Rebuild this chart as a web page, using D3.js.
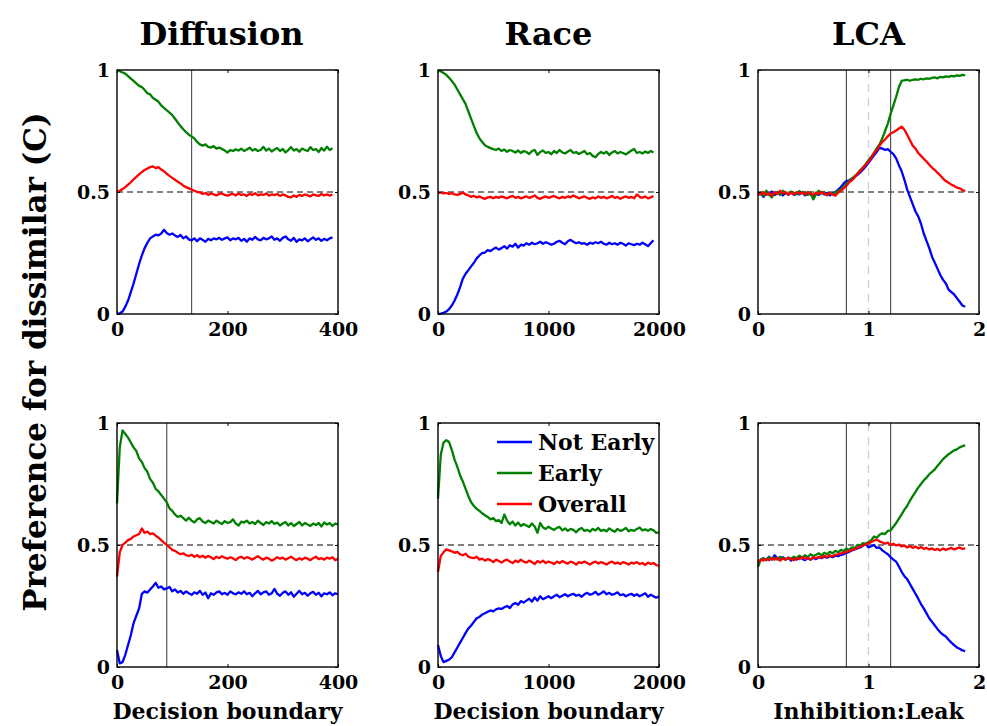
<!DOCTYPE html>
<html>
<head>
<meta charset="utf-8">
<script src="https://cdn.jsdelivr.net/npm/d3@7"></script>
<style>
  body { margin: 0; background: #fff; }
  svg { display: block; }
  text { font-family: "DejaVu Serif", serif; fill: #000; }
</style>
</head>
<body>
<svg id="chart" width="987" height="726"></svg>
<script>
// ---- Sampling grids (x = start + i * step) ----
const diffusionStep = 5;
const raceStep = 25;
const lcaStep = 0.025;

// ---- Labels ----
const modelTitles = ["Diffusion", "Race", "LCA"];
const xAxisTitles = ["Decision boundary", "Decision boundary", "Inhibition:Leak"];
const yAxisTitle = "Preference for dissimilar (C)";
const seriesNames = ["Not Early", "Early", "Overall"];
const seriesColors = ["#0000ff", "#008000", "#ff0000"];

// ---- Axis ticks ----
const diffusionTicks = [0, 200, 400];
const raceTicks = [0, 1000, 2000];
const lcaTicks = [0, 1, 2];
const yTicks = [0, 0.5, 1];

// ---- Reference markers ----
const diffusionTopMarker = [135];
const diffusionBottomMarker = [90];
const lcaMarkers = [0.8, 1.2];
const lcaUnity = [1];

// ---- Diffusion, top row ----
const diffTopNotEarly = [0.00,0.003,0.01,0.03,0.055,0.09,0.125,0.165,0.205,0.24,0.27,0.292,0.31,0.318,0.325,0.322,0.33,0.345,0.332,0.325,0.33,0.322,0.316,0.324,0.31,0.318,0.306,0.302,0.31,0.298,0.31,0.304,0.296,0.308,0.302,0.31,0.306,0.312,0.304,0.31,0.314,0.302,0.31,0.306,0.312,0.30,0.308,0.296,0.31,0.304,0.316,0.306,0.302,0.312,0.306,0.31,0.318,0.304,0.31,0.30,0.312,0.318,0.306,0.30,0.312,0.296,0.306,0.302,0.31,0.298,0.306,0.314,0.304,0.31,0.30,0.308,0.302,0.31,0.314];
const diffTopEarly = [1.00,0.995,0.99,0.985,0.975,0.965,0.955,0.945,0.935,0.93,0.918,0.905,0.90,0.885,0.878,0.87,0.855,0.845,0.835,0.825,0.815,0.80,0.785,0.77,0.757,0.745,0.735,0.728,0.72,0.705,0.695,0.69,0.695,0.685,0.682,0.688,0.678,0.682,0.676,0.67,0.662,0.672,0.668,0.675,0.67,0.678,0.668,0.674,0.682,0.67,0.676,0.668,0.672,0.685,0.67,0.678,0.666,0.674,0.68,0.668,0.676,0.662,0.672,0.684,0.67,0.676,0.665,0.678,0.672,0.668,0.684,0.672,0.676,0.664,0.68,0.67,0.686,0.672,0.68];
const diffTopOverall = [0.50,0.505,0.512,0.52,0.53,0.54,0.552,0.562,0.572,0.582,0.59,0.596,0.602,0.605,0.598,0.602,0.592,0.585,0.575,0.566,0.558,0.55,0.542,0.535,0.526,0.52,0.515,0.51,0.505,0.50,0.498,0.492,0.496,0.488,0.494,0.49,0.486,0.492,0.494,0.488,0.485,0.49,0.492,0.486,0.494,0.488,0.49,0.484,0.492,0.488,0.495,0.486,0.49,0.488,0.494,0.485,0.49,0.487,0.492,0.484,0.49,0.486,0.48,0.478,0.486,0.48,0.488,0.484,0.49,0.486,0.482,0.49,0.486,0.484,0.492,0.486,0.49,0.485,0.49];

// ---- Race, top row ----
const raceTopNotEarly = [0.00,0.002,0.005,0.01,0.02,0.035,0.055,0.08,0.11,0.145,0.165,0.18,0.195,0.21,0.228,0.24,0.25,0.252,0.262,0.258,0.266,0.272,0.264,0.27,0.278,0.268,0.282,0.276,0.288,0.272,0.284,0.28,0.29,0.284,0.292,0.286,0.29,0.296,0.288,0.294,0.29,0.284,0.288,0.296,0.30,0.292,0.286,0.298,0.304,0.296,0.29,0.294,0.288,0.29,0.284,0.292,0.288,0.294,0.29,0.296,0.288,0.284,0.292,0.286,0.29,0.284,0.292,0.288,0.28,0.29,0.286,0.282,0.288,0.284,0.292,0.286,0.278,0.29,0.302];
const raceTopEarly = [1.00,0.995,0.988,0.98,0.968,0.955,0.94,0.92,0.90,0.88,0.86,0.83,0.80,0.77,0.742,0.72,0.705,0.692,0.685,0.68,0.676,0.672,0.678,0.668,0.674,0.665,0.672,0.668,0.662,0.67,0.66,0.668,0.664,0.656,0.668,0.672,0.652,0.664,0.67,0.66,0.664,0.655,0.668,0.66,0.672,0.662,0.658,0.666,0.672,0.66,0.664,0.656,0.662,0.668,0.655,0.66,0.648,0.642,0.656,0.664,0.658,0.665,0.652,0.662,0.668,0.658,0.664,0.66,0.654,0.662,0.67,0.676,0.66,0.664,0.658,0.666,0.66,0.668,0.662];
const raceTopOverall = [0.495,0.498,0.494,0.496,0.492,0.495,0.49,0.488,0.492,0.498,0.49,0.486,0.48,0.484,0.478,0.482,0.476,0.472,0.478,0.48,0.474,0.48,0.476,0.482,0.478,0.474,0.48,0.484,0.476,0.48,0.474,0.478,0.482,0.476,0.48,0.486,0.476,0.472,0.478,0.482,0.476,0.48,0.484,0.478,0.474,0.48,0.476,0.482,0.478,0.486,0.48,0.474,0.478,0.482,0.476,0.472,0.478,0.474,0.482,0.476,0.48,0.474,0.478,0.484,0.476,0.48,0.472,0.478,0.482,0.476,0.48,0.474,0.49,0.48,0.476,0.482,0.474,0.478,0.484];

// ---- LCA, top row ----
const lcaTopNotEarly = [0.488,0.495,0.48,0.498,0.49,0.502,0.488,0.494,0.50,0.486,0.496,0.49,0.498,0.488,0.495,0.49,0.50,0.486,0.494,0.49,0.482,0.494,0.488,0.50,0.49,0.496,0.486,0.494,0.50,0.51,0.52,0.535,0.545,0.548,0.555,0.562,0.57,0.58,0.592,0.605,0.62,0.635,0.65,0.665,0.682,0.678,0.672,0.676,0.665,0.655,0.638,0.61,0.585,0.55,0.51,0.48,0.45,0.42,0.40,0.37,0.33,0.30,0.27,0.235,0.21,0.185,0.16,0.14,0.125,0.10,0.09,0.08,0.065,0.05,0.035,0.03];
const lcaTopEarly = [0.49,0.498,0.485,0.505,0.49,0.478,0.495,0.50,0.488,0.505,0.495,0.49,0.502,0.496,0.49,0.504,0.494,0.50,0.488,0.498,0.47,0.49,0.505,0.494,0.50,0.486,0.496,0.49,0.498,0.505,0.51,0.52,0.535,0.545,0.555,0.565,0.575,0.59,0.60,0.615,0.63,0.645,0.66,0.68,0.695,0.72,0.75,0.78,0.82,0.855,0.89,0.93,0.955,0.958,0.96,0.956,0.96,0.962,0.96,0.964,0.962,0.966,0.964,0.968,0.97,0.966,0.972,0.97,0.974,0.972,0.976,0.974,0.978,0.976,0.98,0.978];
const lcaTopOverall = [0.495,0.49,0.50,0.488,0.495,0.485,0.50,0.492,0.505,0.494,0.50,0.488,0.498,0.49,0.50,0.494,0.498,0.49,0.50,0.494,0.488,0.498,0.492,0.50,0.494,0.488,0.496,0.49,0.485,0.498,0.505,0.515,0.525,0.54,0.548,0.56,0.575,0.585,0.60,0.612,0.625,0.64,0.66,0.672,0.69,0.705,0.715,0.728,0.74,0.745,0.752,0.76,0.768,0.755,0.735,0.712,0.69,0.678,0.66,0.648,0.636,0.625,0.612,0.60,0.59,0.578,0.568,0.555,0.545,0.538,0.53,0.525,0.518,0.515,0.508,0.505];

// ---- Diffusion, bottom row ----
const diffBotNotEarly = [0.07,0.015,0.02,0.05,0.09,0.13,0.18,0.21,0.24,0.30,0.31,0.305,0.318,0.33,0.345,0.325,0.33,0.318,0.322,0.328,0.31,0.318,0.305,0.312,0.30,0.31,0.302,0.296,0.306,0.30,0.312,0.296,0.305,0.282,0.302,0.296,0.306,0.31,0.298,0.304,0.296,0.31,0.302,0.298,0.306,0.30,0.31,0.298,0.304,0.29,0.302,0.312,0.298,0.306,0.31,0.296,0.302,0.32,0.30,0.292,0.304,0.31,0.296,0.306,0.288,0.30,0.312,0.298,0.304,0.292,0.302,0.308,0.296,0.304,0.29,0.302,0.298,0.306,0.294,0.302,0.298];
const diffBotEarly = [0.67,0.90,0.97,0.955,0.94,0.92,0.90,0.885,0.855,0.84,0.815,0.80,0.77,0.755,0.73,0.72,0.705,0.69,0.675,0.65,0.64,0.625,0.615,0.62,0.61,0.60,0.612,0.60,0.592,0.605,0.61,0.596,0.59,0.60,0.594,0.588,0.60,0.592,0.586,0.598,0.59,0.594,0.605,0.588,0.58,0.596,0.592,0.60,0.588,0.594,0.586,0.60,0.59,0.582,0.594,0.588,0.598,0.586,0.592,0.58,0.588,0.594,0.58,0.59,0.578,0.586,0.594,0.58,0.59,0.584,0.578,0.588,0.582,0.59,0.576,0.592,0.584,0.59,0.578,0.588,0.584];
const diffBotOverall = [0.37,0.47,0.50,0.51,0.52,0.525,0.535,0.54,0.545,0.568,0.55,0.555,0.545,0.548,0.538,0.53,0.52,0.51,0.50,0.49,0.48,0.476,0.468,0.462,0.466,0.458,0.455,0.46,0.452,0.458,0.45,0.456,0.448,0.455,0.45,0.442,0.452,0.446,0.454,0.448,0.444,0.45,0.445,0.438,0.448,0.452,0.444,0.45,0.446,0.44,0.448,0.454,0.446,0.44,0.448,0.444,0.436,0.442,0.45,0.444,0.448,0.44,0.446,0.452,0.444,0.438,0.446,0.44,0.448,0.444,0.438,0.446,0.452,0.442,0.446,0.44,0.448,0.444,0.45,0.438,0.444];

// ---- Race, bottom row ----
const raceBotNotEarly = [0.09,0.045,0.02,0.025,0.03,0.04,0.06,0.08,0.10,0.12,0.14,0.158,0.17,0.185,0.20,0.205,0.215,0.22,0.226,0.232,0.228,0.236,0.24,0.238,0.245,0.25,0.242,0.256,0.262,0.255,0.27,0.264,0.272,0.28,0.268,0.285,0.272,0.29,0.278,0.284,0.29,0.282,0.29,0.296,0.286,0.292,0.298,0.29,0.296,0.30,0.292,0.296,0.288,0.298,0.304,0.296,0.30,0.308,0.296,0.302,0.31,0.298,0.304,0.296,0.30,0.306,0.294,0.298,0.29,0.296,0.30,0.292,0.298,0.29,0.296,0.302,0.288,0.296,0.29,0.284,0.29];
const raceBotEarly = [0.69,0.87,0.92,0.93,0.922,0.89,0.85,0.82,0.785,0.76,0.73,0.70,0.675,0.66,0.648,0.64,0.63,0.622,0.615,0.605,0.61,0.598,0.602,0.59,0.625,0.60,0.585,0.596,0.58,0.592,0.578,0.586,0.58,0.574,0.588,0.576,0.55,0.59,0.572,0.566,0.575,0.568,0.562,0.57,0.574,0.56,0.568,0.558,0.566,0.562,0.552,0.564,0.57,0.558,0.562,0.555,0.566,0.56,0.57,0.558,0.562,0.556,0.568,0.56,0.554,0.566,0.558,0.562,0.57,0.556,0.562,0.558,0.566,0.572,0.56,0.564,0.558,0.566,0.56,0.55,0.552];
const raceBotOverall = [0.39,0.455,0.47,0.482,0.478,0.474,0.468,0.472,0.462,0.458,0.464,0.452,0.448,0.446,0.452,0.44,0.444,0.436,0.442,0.438,0.43,0.44,0.434,0.428,0.436,0.44,0.432,0.426,0.436,0.43,0.44,0.432,0.428,0.436,0.43,0.422,0.434,0.428,0.436,0.426,0.432,0.428,0.422,0.432,0.426,0.434,0.428,0.424,0.432,0.428,0.42,0.43,0.426,0.432,0.426,0.42,0.428,0.432,0.424,0.43,0.426,0.42,0.428,0.432,0.424,0.428,0.422,0.43,0.426,0.42,0.428,0.424,0.43,0.422,0.426,0.418,0.428,0.422,0.426,0.418,0.414];

// ---- LCA, bottom row ----
const lcaBotNotEarly = [0.425,0.44,0.445,0.438,0.452,0.44,0.458,0.446,0.44,0.45,0.442,0.448,0.436,0.446,0.44,0.452,0.444,0.438,0.446,0.44,0.448,0.442,0.45,0.446,0.452,0.448,0.454,0.45,0.456,0.454,0.46,0.462,0.468,0.472,0.478,0.482,0.486,0.49,0.498,0.505,0.49,0.495,0.50,0.488,0.49,0.478,0.47,0.462,0.45,0.44,0.432,0.412,0.39,0.372,0.36,0.34,0.32,0.30,0.28,0.258,0.24,0.22,0.20,0.185,0.17,0.155,0.142,0.132,0.125,0.112,0.10,0.09,0.08,0.075,0.068,0.065];
const lcaBotEarly = [0.41,0.44,0.445,0.438,0.45,0.442,0.448,0.44,0.452,0.446,0.44,0.448,0.444,0.452,0.446,0.456,0.448,0.458,0.45,0.462,0.455,0.46,0.466,0.458,0.468,0.462,0.472,0.466,0.476,0.47,0.48,0.475,0.485,0.48,0.49,0.488,0.50,0.498,0.508,0.505,0.512,0.52,0.535,0.53,0.542,0.548,0.545,0.558,0.56,0.575,0.59,0.608,0.625,0.645,0.66,0.682,0.70,0.718,0.735,0.75,0.765,0.776,0.79,0.80,0.81,0.825,0.838,0.852,0.862,0.872,0.88,0.888,0.892,0.90,0.905,0.908];
const lcaBotOverall = [0.43,0.44,0.436,0.444,0.438,0.446,0.44,0.448,0.436,0.444,0.44,0.448,0.442,0.438,0.446,0.442,0.45,0.444,0.448,0.44,0.45,0.446,0.452,0.448,0.456,0.45,0.458,0.454,0.46,0.462,0.466,0.468,0.472,0.475,0.48,0.484,0.488,0.494,0.498,0.502,0.508,0.512,0.518,0.522,0.515,0.51,0.505,0.51,0.50,0.505,0.498,0.502,0.494,0.498,0.49,0.496,0.488,0.494,0.486,0.492,0.484,0.488,0.482,0.486,0.48,0.484,0.478,0.486,0.48,0.484,0.488,0.482,0.486,0.49,0.484,0.486];

// ---- Panel table built from the arrays above ----
const panels = [
  { row: 0, col: 0, step: diffusionStep, domain: [0, 400], ticks: diffusionTicks, markers: diffusionTopMarker, unity: [],
    series: [diffTopNotEarly, diffTopEarly, diffTopOverall] },
  { row: 0, col: 1, step: raceStep, domain: [0, 2000], ticks: raceTicks, markers: [], unity: [],
    series: [raceTopNotEarly, raceTopEarly, raceTopOverall] },
  { row: 0, col: 2, step: lcaStep, domain: [0, 2], ticks: lcaTicks, markers: lcaMarkers, unity: lcaUnity,
    series: [lcaTopNotEarly, lcaTopEarly, lcaTopOverall] },
  { row: 1, col: 0, step: diffusionStep, domain: [0, 400], ticks: diffusionTicks, markers: diffusionBottomMarker, unity: [],
    series: [diffBotNotEarly, diffBotEarly, diffBotOverall] },
  { row: 1, col: 1, step: raceStep, domain: [0, 2000], ticks: raceTicks, markers: [], unity: [], legend: true,
    series: [raceBotNotEarly, raceBotEarly, raceBotOverall] },
  { row: 1, col: 2, step: lcaStep, domain: [0, 2], ticks: lcaTicks, markers: lcaMarkers, unity: lcaUnity,
    series: [lcaBotNotEarly, lcaBotEarly, lcaBotOverall] }
];

// ---- Layout ----
const colLeft = [117, 438, 758];
const rowTop = [70, 423];
const panelW = 221, panelH = 244;

const svg = d3.select("#chart");
const tickFmt = d => d3.format("~g")(d);

panels.forEach(p => {
  const g = svg.append("g")
    .attr("transform", `translate(${colLeft[p.col]},${rowTop[p.row]})`);

  const x = d3.scaleLinear().domain(p.domain).range([0, panelW]);
  const y = d3.scaleLinear().domain([0, 1]).range([panelH, 0]);

  // chance level
  g.append("line")
    .attr("x1", 0).attr("x2", panelW)
    .attr("y1", y(0.5)).attr("y2", y(0.5))
    .attr("stroke", "#000").attr("stroke-width", 1)
    .attr("stroke-dasharray", "6,4");

  // inhibition = leak
  g.selectAll(".unity").data(p.unity).join("line")
    .attr("x1", d => x(d)).attr("x2", d => x(d))
    .attr("y1", 0).attr("y2", panelH)
    .attr("stroke", "#cfcfcf").attr("stroke-width", 1.3)
    .attr("stroke-dasharray", "8,6");

  // parameter markers
  g.selectAll(".marker").data(p.markers).join("line")
    .attr("x1", d => x(d)).attr("x2", d => x(d))
    .attr("y1", 0).attr("y2", panelH)
    .attr("stroke", "#555").attr("stroke-width", 1.2);

  // series
  const line = d3.line()
    .x((d, i) => x(i * p.step))
    .y(d => y(d));
  p.series.forEach((s, k) => {
    g.append("path")
      .datum(s)
      .attr("fill", "none")
      .attr("stroke", seriesColors[k])
      .attr("stroke-width", 2.3)
      .attr("stroke-linejoin", "round")
      .attr("d", line);
  });

  // axes with inward ticks on all four sides
  const axisStyle = sel => {
    sel.select(".domain").remove();
    sel.selectAll("line").attr("stroke", "#000").attr("stroke-width", 1);
    sel.selectAll("text")
      .style("font-family", "'DejaVu Serif', serif")
      .style("font-weight", "bold")
      .style("font-size", "19px")
      .attr("fill", "#000");
  };
  g.append("g").attr("transform", `translate(0,${panelH})`)
    .call(d3.axisBottom(x).tickValues(p.ticks).tickFormat(tickFmt).tickSizeInner(-3).tickSizeOuter(0).tickPadding(9))
    .call(axisStyle);
  g.append("g")
    .call(d3.axisTop(x).tickValues(p.ticks).tickFormat("").tickSizeInner(-3).tickSizeOuter(0))
    .call(axisStyle);
  g.append("g")
    .call(d3.axisLeft(y).tickValues(yTicks).tickFormat(tickFmt).tickSizeInner(-3).tickSizeOuter(0).tickPadding(7))
    .call(axisStyle);
  g.append("g").attr("transform", `translate(${panelW},0)`)
    .call(d3.axisRight(y).tickValues(yTicks).tickFormat("").tickSizeInner(-3).tickSizeOuter(0))
    .call(axisStyle);

  // frame
  g.append("rect")
    .attr("width", panelW).attr("height", panelH)
    .attr("fill", "none").attr("stroke", "#000").attr("stroke-width", 1.4);

  // column title on top row, axis title on bottom row
  if (p.row === 0) {
    g.append("text")
      .attr("x", panelW / 2 - (p.col === 0 ? 6 : 0)).attr("y", -25)
      .attr("text-anchor", "middle")
      .style("font-weight", "bold").style("font-size", "32px")
      .text(modelTitles[p.col]);
  } else {
    g.append("text")
      .attr("x", panelW / 2).attr("y", panelH + 52)
      .attr("text-anchor", "middle")
      .style("font-weight", "bold").style("font-size", "22px")
      .text(xAxisTitles[p.col]);
  }

  if (p.legend) {
    const lg = g.append("g").attr("transform", "translate(59,19)");
    seriesNames.forEach((name, k) => {
      const row = lg.append("g").attr("transform", `translate(0,${k * 31})`);
      row.append("line").attr("x1", 0).attr("x2", 35).attr("y1", 0).attr("y2", 0)
        .attr("stroke", seriesColors[k]).attr("stroke-width", 2.3);
      row.append("text").attr("x", 41).attr("y", 0).attr("dy", "0.35em")
        .style("font-weight", "bold").style("font-size", "22px")
        .text(name);
    });
  }
});

// shared y-axis title
svg.append("text")
  .attr("transform", "translate(35,362) rotate(-90)")
  .attr("text-anchor", "middle")
  .attr("dy", "0.35em")
  .style("font-weight", "bold")
  .style("font-size", "31px")
  .text(yAxisTitle);
</script>
</body>
</html>
